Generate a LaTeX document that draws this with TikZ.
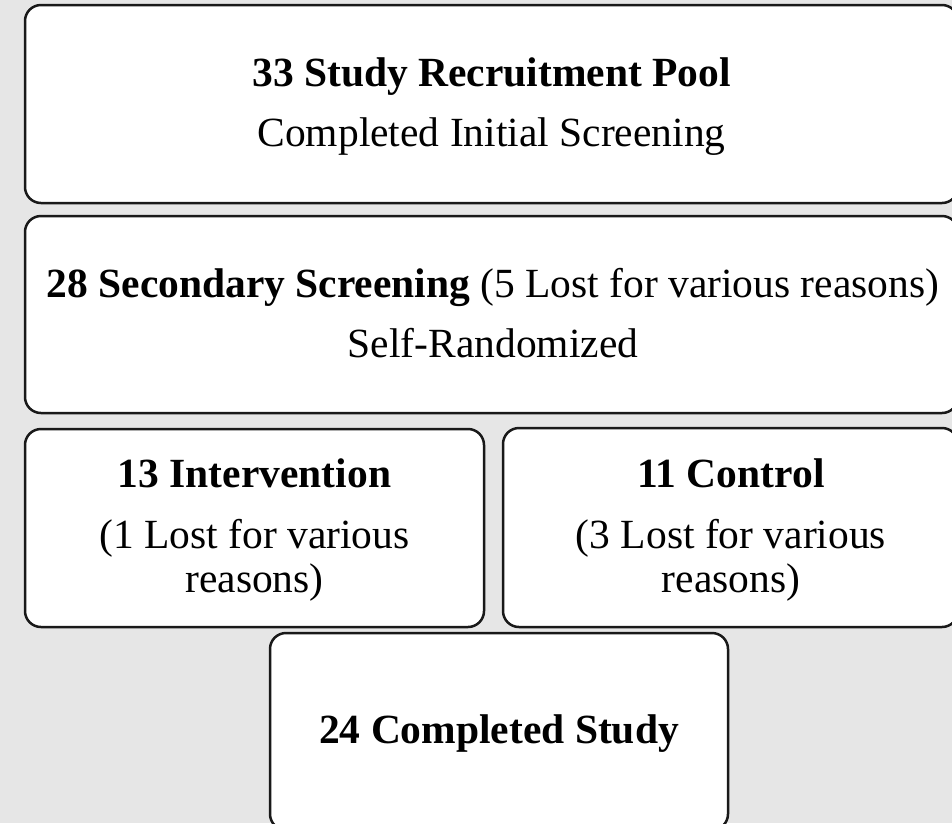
\documentclass[tikz,border=0pt]{standalone}
\usepackage{fontspec}
\setmainfont{Liberation Serif}
\definecolor{bgcol}{RGB}{230,230,230}
\definecolor{edgecol}{RGB}{25,25,25}
\begin{document}
\begin{tikzpicture}[x=1pt,y=-1pt,
  box/.style={draw=edgecol, line width=2.5pt, fill=white, rounded corners=16pt, inner sep=0pt, outer sep=0pt},
  txt/.style={anchor=base, inner sep=0pt, font=\fontsize{41.5}{44}\selectfont},
  ttl/.style={anchor=base, inner sep=0pt, font=\fontsize{41.5}{44}\selectfont\bfseries}]
\useasboundingbox (0,0) rectangle (952,823);
\fill[bgcol] (0,0) rectangle (952,823);
\clip (0,0) rectangle (952,823);
% boxes
\node[box, minimum width=933pt, minimum height=198pt] (pool) at (491.5,104) {};
\node[box, minimum width=933pt, minimum height=197pt] (second) at (491.5,314.5) {};
\node[box, minimum width=459pt, minimum height=198pt] (interv) at (254.5,528) {};
\node[box, minimum width=455pt, minimum height=199pt] (control) at (730.5,527.5) {};
\node[box, minimum width=458pt, minimum height=197pt] (done) at (499,731.5) {};
% texts
\node[ttl] (poolT) at (491.5,86) {33 Study Recruitment Pool};
\node[txt] (poolS) at (491.5,146) {Completed Initial Screening};
\node[txt] (secondT) at (493,297) {\textbf{28 Secondary Screening} (5 Lost for various reasons)};
\node[txt] (secondS) at (493,357) {Self-Randomized};
\node[ttl] (intervT) at (254.5,487) {13 Intervention};
\node[txt] (intervA) at (254.5,548) {(1 Lost for various};
\node[txt] (intervB) at (254.5,592) {reasons)};
\node[ttl] (controlT) at (731,487) {11 Control};
\node[txt] (controlA) at (731,548) {(3 Lost for various};
\node[txt] (controlB) at (731,592) {reasons)};
\node[ttl] (doneT) at (499,743) {24 Completed Study};
\end{tikzpicture}
\end{document}
